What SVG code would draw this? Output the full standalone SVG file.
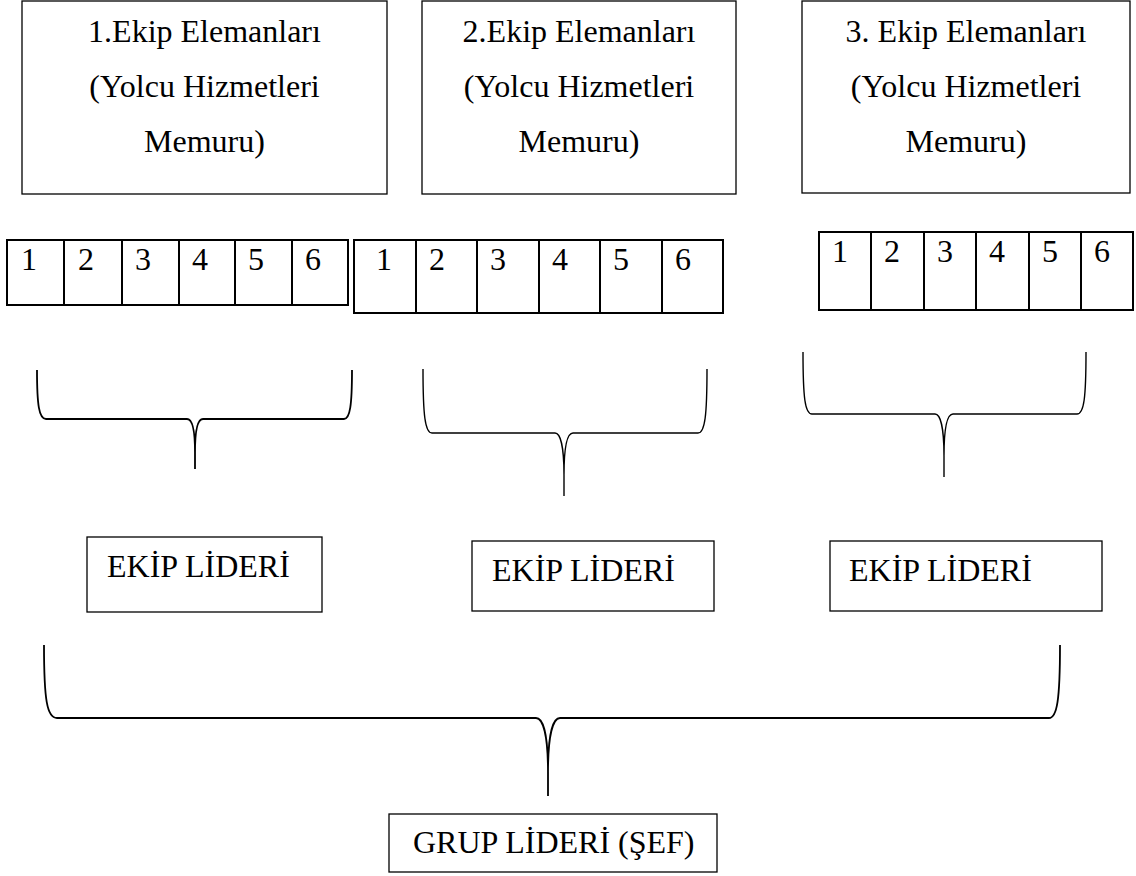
<svg xmlns="http://www.w3.org/2000/svg" width="1136" height="876" viewBox="0 0 1136 876">
<style>
  .box{fill:#fff;stroke:#000;stroke-width:1.3}
  .cell{fill:none;stroke:#000;stroke-width:2}
  .t{font-family:"Liberation Serif","Times New Roman",serif;font-size:32px;fill:#000}
  .c{text-anchor:middle}
  .brace{fill:none;stroke:#000;stroke-width:1.8}
  .brace.thin{stroke-width:1.4}
</style>
<rect width="1136" height="876" fill="#fff"/>
<g id="ekip1">
  <rect class="box" x="22" y="1" width="365" height="193"/>
  <text class="t c" x="204.5" y="42">1.Ekip Elemanları</text>
  <text class="t c" x="204.5" y="97">(Yolcu Hizmetleri</text>
  <text class="t c" x="204.5" y="152">Memuru)</text>
</g>
<g id="ekip2">
  <rect class="box" x="422" y="1" width="314" height="193"/>
  <text class="t c" x="579" y="42">2.Ekip Elemanları</text>
  <text class="t c" x="579" y="97">(Yolcu Hizmetleri</text>
  <text class="t c" x="579" y="152">Memuru)</text>
</g>
<g id="ekip3">
  <rect class="box" x="802" y="1" width="328" height="192"/>
  <text class="t c" x="966" y="42">3. Ekip Elemanları</text>
  <text class="t c" x="966" y="97">(Yolcu Hizmetleri</text>
  <text class="t c" x="966" y="152">Memuru)</text>
</g>
<g id="row1">
  <rect class="cell" x="7" y="240" width="341" height="65"/>
  <path class="cell" d="M64,240V305M122,240V305M179,240V305M235,240V305M292,240V305"/>
  <text class="t" x="21" y="270">1</text>
  <text class="t" x="78" y="270">2</text>
  <text class="t" x="135" y="270">3</text>
  <text class="t" x="192" y="270">4</text>
  <text class="t" x="248" y="270">5</text>
  <text class="t" x="305" y="270">6</text>
</g>
<g id="row2">
  <rect class="cell" x="354" y="240" width="369" height="73"/>
  <path class="cell" d="M416,240V313M477,240V313M539,240V313M600,240V313M662,240V313"/>
  <text class="t" x="376" y="270">1</text>
  <text class="t" x="429" y="270">2</text>
  <text class="t" x="490" y="270">3</text>
  <text class="t" x="552" y="270">4</text>
  <text class="t" x="613" y="270">5</text>
  <text class="t" x="675" y="270">6</text>
</g>
<g id="row3">
  <rect class="cell" x="819" y="232" width="314" height="78"/>
  <path class="cell" d="M871,232V310M924,232V310M976,232V310M1029,232V310M1081,232V310"/>
  <text class="t" x="832" y="262">1</text>
  <text class="t" x="884" y="262">2</text>
  <text class="t" x="937" y="262">3</text>
  <text class="t" x="989" y="262">4</text>
  <text class="t" x="1042" y="262">5</text>
  <text class="t" x="1094" y="262">6</text>
</g>
<g id="connectors">
  <path class="brace" d="M37,370 C37,405 39,419 46,419 L187,419 C192,419 195,430 195,452 L195,469 M195,452 C195,430 198,419 203,419 L344,419 C350,419 352,405 352,370"/>
  <path class="brace thin" d="M423,369 C423,415 425,433 432,433 L555,433 C560,433 564,445 564,475 L564,496 M564,475 C564,445 567,433 573,433 L698,433 C705,433 707,415 707,369"/>
  <path class="brace thin" d="M803,352 C803,398 805,414 812,414 L935,414 C940,414 944,426 944,456 L944,477 M944,456 C944,426 947,414 953,414 L1077,414 C1084,414 1086,398 1086,352"/>
  <path class="brace" d="M44,645 C44,700 47,718 57,718 L536,718 C543,718 548,735 548,772 L548,796 M548,772 C548,735 553,718 560,718 L1049,718 C1057,718 1060,700 1060,645"/>
</g>
<g id="lider1">
  <rect class="box" x="87" y="537" width="235" height="75"/>
  <text class="t" x="107" y="577">EKİP LİDERİ</text>
</g>
<g id="lider2">
  <rect class="box" x="472" y="541" width="242" height="70"/>
  <text class="t" x="492" y="581">EKİP LİDERİ</text>
</g>
<g id="lider3">
  <rect class="box" x="830" y="541" width="272" height="70"/>
  <text class="t" x="849" y="581">EKİP LİDERİ</text>
</g>
<g id="grup">
  <rect class="box" x="389" y="814" width="328" height="58"/>
  <text class="t" x="413" y="853">GRUP LİDERİ (ŞEF)</text>
</g>
</svg>
